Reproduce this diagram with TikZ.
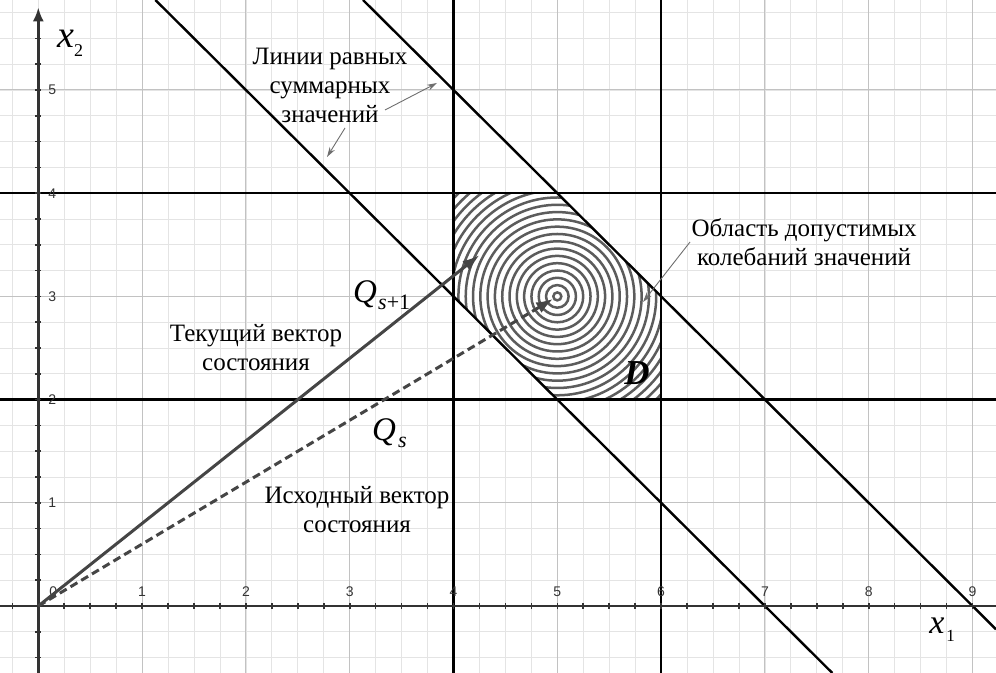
\documentclass[tikz,border=0pt]{standalone}
\usepackage{fontspec}
\setmainfont{Liberation Serif}
\newfontfamily\ticksf{Liberation Sans}
\usetikzlibrary{arrows.meta}
\definecolor{gmin}{HTML}{E4E4E4}
\definecolor{gmaj}{HTML}{C2C2C2}
\definecolor{axc}{HTML}{333333}
\definecolor{vecc}{HTML}{454545}
\definecolor{ringc}{HTML}{5C5C5C}
\definecolor{notec}{HTML}{6E6E6E}
\begin{document}
\begin{tikzpicture}[x=103.8pt,y=103.2pt,
  minorgrid/.style={gmin,line width=0.8pt},
  majorgrid/.style={gmaj,line width=1pt},
  bound/.style={black,line width=2.4pt},
  axisline/.style={axc,line width=2.4pt},
  tickmark/.style={axc,line width=1.6pt},
  ticklab/.style={font=\ticksf\fontsize{14}{14}\selectfont,text=axc,inner sep=0pt},
  ring/.style={ringc,line width=2.5pt},
  vec/.style={vecc,line width=3pt,-{Latex[length=17pt,width=12pt]}},
  note/.style={font=\fontsize{25}{29}\selectfont,align=center,inner sep=0pt},
  pointer/.style={notec,line width=0.9pt,-{Stealth[length=10pt,width=6pt]}},
  mathlab/.style={inner sep=0pt,anchor=base west},
]
\useasboundingbox (-0.369,-0.649) rectangle (9.226,5.872);
% grid
\foreach \i in {-1,...,36} \draw[minorgrid] ({\i/4},-0.649) -- ({\i/4},5.872);
\foreach \i in {-2,...,23} \draw[minorgrid] (-0.369,{\i/4}) -- (9.226,{\i/4});
\foreach \i in {1,...,9} \draw[majorgrid] (\i,-0.649) -- (\i,5.872);
\foreach \i in {1,...,5} \draw[majorgrid] (-0.369,\i) -- (9.226,\i);
% region D
\begin{scope}
  \clip (4,3) -- (4,4) -- (5,4) -- (6,3) -- (6,2) -- (5,2) -- cycle;
  \fill[white] (4,2) rectangle (6,4);
  \foreach \k in {0,...,21} \draw[ring] (5,3) circle[radius={4pt+7.3pt*\k}];
\end{scope}
% boundary lines
\draw[bound] (4,-0.649) -- (4,5.872);
\draw[bound] (6,-0.649) -- (6,5.872);
\draw[bound] (-0.369,2) -- (9.226,2);
\draw[bound] (-0.369,4) -- (9.226,4);
\draw[bound] (1.128,5.872) -- (7.649,-0.649);
\draw[bound] (3.128,5.872) -- (9.226,-0.226);
% axes
\draw[axisline] (-0.369,0) -- (9.226,0);
\draw[axisline,-{Latex[length=14pt,width=11pt]}] (0,-0.649) -- (0,5.80);
\foreach \i in {-1,1,2,...,36} \draw[tickmark] ({\i/4},0) ++(0,-3pt) -- ++(0,6pt);
\foreach \i in {-2,-1,1,2,...,22} \draw[tickmark] (0,{\i/4}) ++(-3pt,0) -- ++(6pt,0);
\path (0,0) ++(15pt,14pt) node[ticklab] (xl0) {0};
\foreach \i in {1,...,9} \path (\i,0) ++(0,14pt) node[ticklab] (xl\i) {\i};
\foreach \i in {1,...,5} \path (0,\i) ++(14pt,0) node[ticklab] (yl\i) {\i};
% vectors
\coordinate (O) at (0,0);
\coordinate (Q1) at (4.25,3.4);
\coordinate (Q0) at (4.96,2.976);
\draw[vec] (O) -- (Q1);
\draw[vec,dash pattern=on 8pt off 4.5pt] (O) -- (Q0);
% labels in pixel coordinates
\begin{scope}[x=1pt,y=-1pt,shift={(-38.3pt,606pt)}]
  \node[mathlab] (x2) at (57,48) {\fontsize{38}{38}\selectfont\itshape x};
  \node[mathlab] (x2s) at (74,57) {\fontsize{18}{18}\selectfont 2};
  \node[mathlab] (x1) at (929,633) {\fontsize{34}{34}\selectfont\itshape x};
  \node[mathlab] (x1s) at (946,641) {\fontsize{17}{17}\selectfont 1};
  \node[mathlab] (qs1) at (353,303) {\fontsize{33}{33}\selectfont\itshape Q};
  \node[mathlab] (qs1s) at (378,310) {\fontsize{22}{22}\selectfont\textit{s}+1};
  \node[mathlab] (qs) at (372,440) {\fontsize{33}{33}\selectfont\itshape Q};
  \node[mathlab] (qss) at (398,447) {\fontsize{22}{22}\selectfont\itshape s};
  \node[inner sep=0pt] (D) at (637,373) {\fontsize{35}{35}\selectfont\bfseries\itshape D};
  \node[note] (lines) at (330,85) {Линии равных\\суммарных\\значений};
  \node[note] (area) at (804,242) {Область допустимых\\колебаний значений};
  \node[note] (cur) at (256,348) {Текущий вектор\\состояния};
  \node[note] (init) at (357,510) {Исходный вектор\\состояния};
  \coordinate (p1s) at (345,128);
  \coordinate (p1e) at (327,157);
  \coordinate (p2s) at (385,110);
  \coordinate (p2e) at (437,83);
  \coordinate (p3s) at (690,242);
  \coordinate (p3e) at (643,302);
  \draw[pointer] (p1s) -- (p1e);
  \draw[pointer] (p2s) -- (p2e);
  \draw[pointer] (p3s) -- (p3e);
\end{scope}
\end{tikzpicture}
\end{document}
